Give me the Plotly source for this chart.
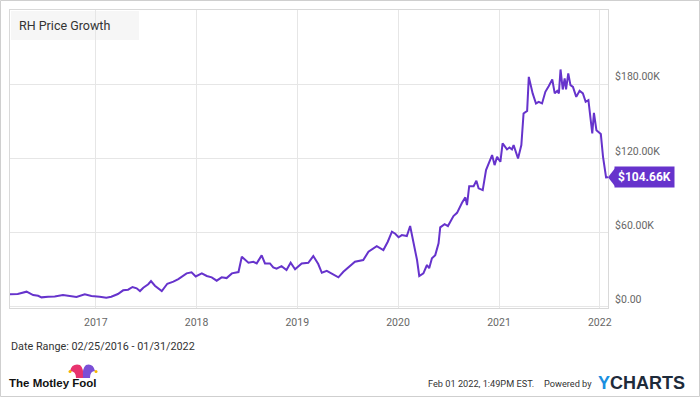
import plotly.graph_objects as go

# ---------------- data (values in $K) ----------------
dates = [
    "2016-02-25", "2016-03-24", "2016-04-25", "2016-05-19", "2016-06-06", "2016-06-18",
    "2016-07-12", "2016-08-05", "2016-09-04", "2016-09-28", "2016-10-23", "2016-11-22",
    "2016-12-16", "2017-01-15", "2017-02-08", "2017-02-26", "2017-03-22", "2017-04-10",
    "2017-04-28", "2017-05-14", "2017-05-29", "2017-06-10", "2017-06-22", "2017-07-10",
    "2017-07-20", "2017-08-03", "2017-08-28", "2017-09-17", "2017-10-09", "2017-10-27",
    "2017-11-08", "2017-11-26", "2017-12-14", "2017-12-29", "2018-01-20", "2018-02-07",
    "2018-02-25", "2018-03-15", "2018-04-02", "2018-04-20", "2018-05-09", "2018-06-02",
    "2018-06-14", "2018-07-08", "2018-07-26", "2018-08-07", "2018-08-25", "2018-09-06",
    "2018-09-24", "2018-10-06", "2018-10-18", "2018-11-05", "2018-11-23", "2018-12-08",
    "2018-12-24", "2019-01-17", "2019-02-10", "2019-02-28", "2019-03-18", "2019-03-31",
    "2019-04-18", "2019-05-06", "2019-05-30", "2019-06-17", "2019-07-05", "2019-07-29",
    "2019-08-28", "2019-09-16", "2019-10-16", "2019-11-09", "2019-11-25", "2019-12-10",
    "2019-12-22", "2020-01-03", "2020-01-15", "2020-02-02", "2020-02-14", "2020-02-26",
    "2020-03-10", "2020-03-18", "2020-04-02", "2020-04-15", "2020-04-23", "2020-05-03",
    "2020-05-15", "2020-05-27", "2020-06-02", "2020-06-18", "2020-06-30", "2020-07-20",
    "2020-08-02", "2020-08-20", "2020-09-01", "2020-09-07", "2020-09-15", "2020-10-01",
    "2020-10-11", "2020-10-19", "2020-11-03", "2020-11-15", "2020-12-07", "2020-12-16",
    "2020-12-25", "2021-01-06", "2021-01-14", "2021-01-30", "2021-02-08", "2021-02-17",
    "2021-02-23", "2021-03-11", "2021-03-23", "2021-03-31", "2021-04-13", "2021-04-19",
    "2021-05-03", "2021-05-15", "2021-05-25", "2021-06-06", "2021-06-18", "2021-06-30",
    "2021-07-13", "2021-07-22", "2021-07-31", "2021-08-06", "2021-08-12", "2021-08-20",
    "2021-08-27", "2021-09-01", "2021-09-09", "2021-09-17", "2021-09-26", "2021-10-08",
    "2021-10-20", "2021-11-01", "2021-11-11", "2021-11-21", "2021-12-05", "2021-12-11",
    "2021-12-20", "2022-01-05", "2022-01-13", "2022-01-24", "2022-01-31",
]
values_k = [
    10.0, 10.2, 12.0, 9.3, 8.7, 7.4,
    7.9, 8.2, 9.3, 8.7, 7.7, 9.9,
    8.5, 7.9, 7.1, 7.9, 10.1, 13.1,
    13.6, 15.8, 14.7, 12.5, 15.2, 18.0,
    20.6, 16.8, 12.5, 18.4, 20.1, 22.2,
    23.9, 26.8, 27.7, 24.3, 26.8, 24.7,
    23.6, 20.9, 23.6, 23.0, 26.8, 27.9,
    40.3, 35.4, 36.2, 34.9, 41.4, 34.9,
    34.9, 31.7, 30.6, 32.7, 29.5, 35.4,
    30.1, 34.9, 35.4, 40.8, 34.4, 27.3,
    28.9, 26.8, 23.6, 28.1, 31.7, 36.2,
    37.6, 44.3, 48.9, 45.7, 52.4, 60.5,
    58.9, 56.0, 57.8, 57.0, 65.1, 51.1,
    37.6, 24.7, 26.8, 33.6, 30.9, 39.0,
    41.6, 51.1, 64.0, 66.7, 65.1, 73.2,
    75.8, 83.9, 88.3, 82.1, 97.4, 97.4,
    101.7, 95.6, 94.2, 110.4, 122.5, 114.4,
    121.1, 117.1, 132.0, 127.1, 128.7, 127.1,
    130.6, 119.8, 130.6, 156.2, 158.3, 185.8,
    172.4, 164.3, 165.6, 164.3, 173.7, 178.3,
    183.7, 172.4, 174.5, 172.4, 191.8, 175.6,
    184.5, 175.6, 188.6, 179.1, 177.7, 169.6,
    174.5, 172.4, 165.6, 167.0, 140.0, 156.7,
    142.7, 139.5, 121.1, 104.5, 104.66,
]
y_tick_vals = [0, 60, 120, 180]
y_tick_text = ["$0.00", "$60.00K", "$120.00K", "$180.00K"]
x_tick_vals = ["2017-01-01", "2018-01-01", "2019-01-01", "2020-01-01", "2021-01-01", "2022-01-01"]
x_tick_text = ["2017", "2018", "2019", "2020", "2021", "2022"]

title_text = "RH Price Growth"
range_text = "Date Range: 02/25/2016 - 01/31/2022"
stamp_text = "Feb 01 2022, 1:49PM EST."
last_label = "$104.66K"

# ---------------- layout helpers ----------------
W, H = 700, 397
ML, MR, MT, MB = 10, 92, 10, 89
PW, PH = W - ML - MR, H - MT - MB
LINE = "#6633cc"
FONT = "Roboto"


def px(x):
    return (x - ML) / PW


def py(y):
    return (H - MB - y) / PH


fig = go.Figure()
fig.add_trace(go.Scatter(
    x=dates, y=values_k, mode="lines",
    line=dict(color=LINE, width=2), hoverinfo="skip", showlegend=False,
))

fig.update_layout(
    width=W, height=H,
    margin=dict(l=ML, r=MR, t=MT, b=MB, autoexpand=False),
    paper_bgcolor="white", plot_bgcolor="white",
    font=dict(family=FONT, color="#555"),
    xaxis=dict(
        type="date", range=[dates[0], dates[-1]],
        tickvals=x_tick_vals, ticktext=x_tick_text,
        showgrid=True, gridcolor="#e6e6e6", gridwidth=1,
        showline=True, linecolor="#d9d9d9", linewidth=1, mirror=True,
        ticks="", ticklabelstandoff=4, tickfont=dict(size=10.5, color="#666", family=FONT),
        zeroline=False, fixedrange=True,
    ),
    yaxis=dict(
        range=[-1.2, 239.9], side="right",
        tickvals=y_tick_vals, ticktext=y_tick_text,
        ticklabelposition="outside top", ticklabelstandoff=4,
        showgrid=True, gridcolor="#e6e6e6", gridwidth=1,
        showline=True, linecolor="#d9d9d9", linewidth=1, mirror=True,
        ticks="", tickfont=dict(size=10.5, color="#666", family=FONT),
        zeroline=False, fixedrange=True,
    ),
)

shapes = [
    # outer frame
    dict(type="rect", xref="paper", yref="paper", x0=px(0.5), x1=px(699.5), y0=py(396.5), y1=py(0.5),
         line=dict(color="#cfcfcf", width=1), fillcolor="rgba(0,0,0,0)", layer="below"),
    # title box
    dict(type="rect", xref="paper", yref="paper", x0=px(11), x1=px(139), y0=py(40), y1=py(11),
         line=dict(width=0), fillcolor="#f6f6f6", layer="below"),
    # arrow of last value tag
    dict(type="path", xref="paper", yref="y", xsizemode="pixel", ysizemode="pixel",
         xanchor=1, yanchor=values_k[-1], path="M0,0 L7,9 L7,-9 Z",
         fillcolor=LINE, line=dict(width=0)),
    # Motley Fool jester hat (pink & purple lobes)
    dict(type="path", xref="paper", yref="paper",
         path=f"M{px(70)},{py(371)} Q{px(72)},{py(363)} {px(80)},{py(365)} Q{px(84)},{py(368)} {px(83)},{py(378)} L{px(76)},{py(378)} Q{px(76)},{py(371)} {px(70)},{py(371)} Z",
         fillcolor="#e8336e", line=dict(width=0)),
    dict(type="path", xref="paper", yref="paper",
         path=f"M{px(95)},{py(371)} Q{px(93)},{py(363)} {px(86)},{py(365)} Q{px(82)},{py(368)} {px(83)},{py(378)} L{px(90)},{py(378)} Q{px(90)},{py(371)} {px(95)},{py(371)} Z",
         fillcolor="#7b4fd6", line=dict(width=0)),
    dict(type="circle", xref="paper", yref="paper", x0=px(68.5), x1=px(71.5), y0=py(373), y1=py(370),
         fillcolor="#f5b700", line=dict(width=0)),
    dict(type="circle", xref="paper", yref="paper", x0=px(94.5), x1=px(97.5), y0=py(373), y1=py(370),
         fillcolor="#f5b700", line=dict(width=0)),
]
fig.update_layout(shapes=shapes)

annotations = [
    dict(text=title_text, x=px(17), y=py(25.5), xref="paper", yref="paper", xanchor="left", yanchor="middle",
         showarrow=False, font=dict(size=12.5, color="#333", family=FONT)),
    dict(text=f"<b>{last_label}</b>", x=1, y=values_k[-1], xref="paper", yref="y", xanchor="left", yanchor="middle",
         xshift=6, showarrow=False, bgcolor=LINE, borderpad=3,
         font=dict(size=12, color="white", family=FONT)),
    dict(text=range_text, x=px(9), y=py(346), xref="paper", yref="paper", xanchor="left", yanchor="middle",
         showarrow=False, font=dict(size=10.8, color="#333", family=FONT)),
    dict(text="<b>The Motley Fool</b>", x=px(7), y=py(383), xref="paper", yref="paper", xanchor="left", yanchor="middle",
         showarrow=False, font=dict(size=11.5, color="#111", family="Liberation Sans")),
    dict(text=stamp_text, x=px(536), y=py(383), xref="paper", yref="paper", xanchor="right", yanchor="middle",
         showarrow=False, font=dict(size=9.2, color="#333", family=FONT)),
    dict(text="Powered by", x=px(594), y=py(383), xref="paper", yref="paper", xanchor="right", yanchor="middle",
         showarrow=False, font=dict(size=9.2, color="#333", family=FONT)),
    dict(text="<b><span style='color:#1a8fe0'>Y</span>CHARTS</b>", x=px(596), y=py(383), xref="paper", yref="paper",
         xanchor="left", yanchor="middle",
         showarrow=False, font=dict(size=18, color="#1e2b3a", family="Liberation Sans")),
]
fig.update_layout(annotations=annotations)

fig.write_html("out.html", config={"displayModeBar": False},
               post_script="document.body.style.margin='0';document.body.style.overflow='hidden';")
